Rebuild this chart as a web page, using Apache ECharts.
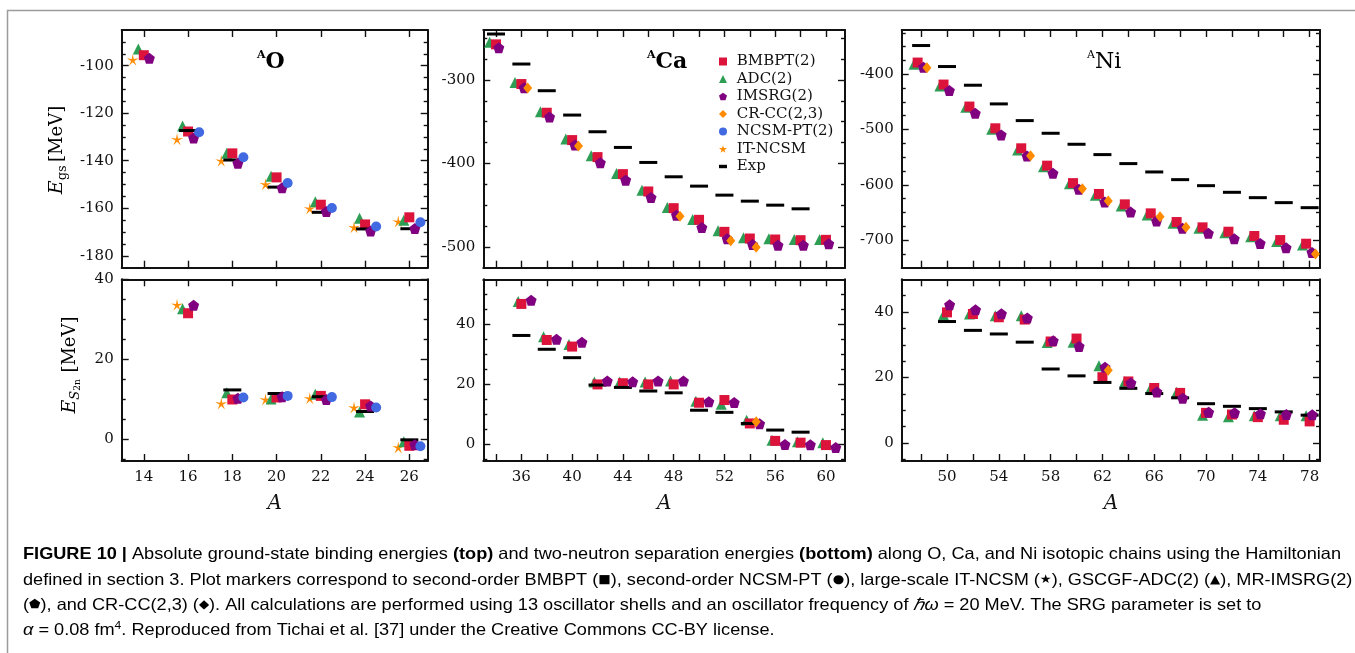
<!DOCTYPE html>
<html><head><meta charset="utf-8">
<script src="https://cdn.jsdelivr.net/npm/echarts@6/dist/echarts.min.js"></script>
<style>html,body{margin:0;padding:0;background:#fff}#c{width:1355px;height:653px}</style>
</head><body><div id="c"></div>
<script>
// ================= DATA =================
// Oxygen
const O_A = [14, 16, 18, 20, 22, 24, 26];
const O_TOP_BMBPT  = [-95.6, -127.7, -136.9, -147.0, -158.5, -166.8, -163.8];
const O_TOP_ADC    = [-93.0, -125.4, -136.9, -146.5, -157.3, -164.2, -165.0];
const O_TOP_IMSRG  = [-96.9, -130.4, -141.1, -151.4, -161.4, -169.6, -168.5];
const O_TOP_NCSMPT = [null, -128.0, -138.5, -149.4, -159.9, -167.7, -165.9];
const O_TOP_ITNCSM = [-97.5, -131.0, -140.0, -149.9, -160.1, -168.0, -165.6];
const O_TOP_EXP    = [null, -127.3, -139.7, -151.1, -161.7, -168.7, -168.6];

const O_A_S2N = [16, 18, 20, 22, 24, 26];
const O_S2N_BMBPT  = [31.5, 9.9, 10.4, 10.8, 8.7, -1.7];
const O_S2N_ADC    = [32.6, 11.6, 10.0, 11.2, 6.8, -0.7];
const O_S2N_IMSRG  = [33.5, 10.2, 10.6, 9.9, 8.3, -1.4];
const O_S2N_NCSMPT = [null, 10.4, 10.8, 10.5, 7.9, -1.8];
const O_S2N_ITNCSM = [33.6, 8.9, 9.9, 10.2, 7.9, -2.1];
const O_S2N_EXP    = [null, 12.3, 11.4, 10.6, 6.9, -0.2];

// Calcium
const CA_A = [34, 36, 38, 40, 42, 44, 46, 48, 50, 52, 54, 56, 58, 60];
const CA_TOP_BMBPT = [-257.2, -304.8, -339.2, -372.0, -392.4, -412.8, -433.6, -453.6, -467.6, -482.0, -490.0, -491.2, -492.0, -491.6];
const CA_TOP_ADC   = [-254.8, -302.8, -338.0, -370.8, -390.8, -412.0, -432.0, -452.8, -467.2, -480.8, -489.2, -490.4, -491.2, -491.2];
const CA_TOP_IMSRG = [-261.2, -309.2, -344.4, -378.0, -399.2, -420.0, -440.8, -462.0, -476.8, -490.4, -497.2, -498.0, -498.0, -496.4];
const CA_TOP_CRCC  = [null, -309.6, null, -379.2, null, null, null, -463.2, null, -492.8, -500.4, null, null, null];
const CA_TOP_EXP   = [-244.8, -280.8, -312.8, -342.0, -362.0, -380.8, -398.8, -416.0, -427.2, -438.0, -445.2, -450.0, -454.4, null];

const CA_A_S2N = [36, 38, 40, 42, 44, 46, 48, 50, 52, 54, 56, 58, 60];
const CA_S2N_BMBPT = [46.8, 34.8, 32.6, 20.0, 20.4, 20.0, 20.0, 13.9, 14.8, 7.0, 1.2, 0.6, -0.2];
const CA_S2N_ADC   = [47.6, 35.9, 33.3, 20.8, 20.8, 20.8, 21.1, 14.4, 13.4, 8.1, 1.4, 0.9, 0.6];
const CA_S2N_IMSRG = [48.0, 35.0, 34.0, 21.1, 20.9, 21.1, 21.1, 14.2, 14.0, 6.9, 0.0, -0.1, -1.0];
const CA_S2N_CRCC  = [null, null, null, null, null, null, null, null, null, 7.6, null, null, null];
const CA_S2N_EXP   = [36.3, 31.7, 28.9, 19.8, 19.0, 17.8, 17.2, 11.4, 10.7, 7.0, 4.8, 4.1, null];

// Nickel
const NI_A = [48, 50, 52, 54, 56, 58, 60, 62, 64, 66, 68, 70, 72, 74, 76, 78];
const NI_TOP_BMBPT = [-378.9, -418.7, -458.5, -497.8, -534.0, -565.4, -597.0, -616.6, -635.4, -651.7, -667.4, -677.0, -684.9, -692.7, -700.0, -706.6];
const NI_TOP_ADC   = [-381.9, -421.1, -459.7, -499.6, -537.0, -567.2, -598.2, -619.0, -638.4, -654.8, -669.8, -678.8, -686.7, -693.9, -702.4, -709.0];
const NI_TOP_IMSRG = [-387.3, -429.6, -470.6, -509.8, -547.9, -579.3, -608.2, -631.1, -649.2, -665.6, -678.8, -687.9, -697.5, -706.0, -713.8, -722.3];
const NI_TOP_CRCC  = [-388.5, null, null, null, -547.3, null, -607.0, -629.3, null, -657.7, -677.0, null, null, null, null, -725.3];
const NI_TOP_EXP   = [-348.1, -386.1, -419.9, -453.7, -483.9, -506.8, -526.7, -545.4, -561.7, -576.8, -590.7, -601.6, -613.6, -623.3, -632.3, -641.4];

const NI_A_S2N = [50, 52, 54, 56, 58, 60, 62, 64, 66, 68, 70, 72, 74, 76, 78];
const NI_S2N_BMBPT = [39.9, 39.4, 38.4, 37.7, 31.0, 31.9, 20.1, 18.8, 16.8, 15.3, 9.2, 8.7, 7.9, 7.1, 6.6];
const NI_S2N_ADC   = [39.2, 39.4, 38.9, 38.9, 30.7, 30.8, 23.6, 18.8, 16.8, 15.5, 8.5, 8.0, 8.3, 8.3, 8.3];
const NI_S2N_IMSRG = [42.2, 40.7, 39.5, 38.2, 31.2, 29.5, 23.1, 18.3, 15.6, 13.7, 9.4, 9.2, 8.9, 8.7, 8.6];
const NI_S2N_CRCC  = [null, null, null, null, null, null, 22.2, null, null, null, null, null, null, null, null];
const NI_S2N_EXP   = [37.1, 34.4, 33.3, 30.8, 22.6, 20.5, 18.5, 16.7, 15.1, 13.8, 12.0, 11.2, 10.5, 9.5, 8.5];

// Tick values / labels
const O_X_TICKS  = [14, 16, 18, 20, 22, 24, 26];
const O_X_LABELS = [14, 16, 18, 20, 22, 24, 26];
const CA_X_TICKS  = [34, 36, 38, 40, 42, 44, 46, 48, 50, 52, 54, 56, 58, 60];
const CA_X_LABELS = [36, 40, 44, 48, 52, 56, 60];
const NI_X_TICKS  = [48, 50, 52, 54, 56, 58, 60, 62, 64, 66, 68, 70, 72, 74, 76, 78];
const NI_X_LABELS = [50, 54, 58, 62, 66, 70, 74, 78];
const O_TOP_Y_LABELS  = [-180, -160, -140, -120, -100];
const CA_TOP_Y_LABELS = [-500, -400, -300];
const NI_TOP_Y_LABELS = [-700, -600, -500, -400];
const S2N_Y_LABELS    = [0, 20, 40];

// ================= STYLE / LAYOUT =================
const PENT = 'path://M0,-10L9.511,-3.09L5.878,8.09L-5.878,8.09L-9.511,-3.09Z';
const THIN_STAR = 'path://M0,-10L1.6,-2.2L9.511,-3.09L2.6,0.85L5.878,8.09L0,2.75L-5.878,8.09L-2.6,0.85L-9.511,-3.09L-1.6,-2.2Z';
const FAT_STAR = 'path://M0,-10L2.245,-3.09L9.511,-3.09L3.633,1.18L5.878,8.09L0,3.82L-5.878,8.09L-3.633,1.18L-9.511,-3.09L-2.245,-3.09Z';

const METHODS = {
  ITNCSM: {name: 'IT-NCSM',    symbol: THIN_STAR, size: 12,      color: '#ff8c00'},
  ADC:    {name: 'ADC(2)',     symbol: 'triangle', size: 11,     color: '#2f9e55'},
  BMBPT:  {name: 'BMBPT(2)',   symbol: 'rect',     size: 10,     color: '#dc143c'},
  EXP:    {name: 'Exp',        symbol: 'rect',     size: [18, 3], color: '#000000'},
  IMSRG:  {name: 'IMSRG(2)',   symbol: PENT,       size: 11,     color: '#800080'},
  CRCC:   {name: 'CR-CC(2,3)', symbol: 'diamond',  size: [9, 11], color: '#ff8c00'},
  NCSMPT: {name: 'NCSM-PT(2)', symbol: 'circle',   size: 10,     color: '#4169e1'}
};
const ORDER = ['ITNCSM', 'ADC', 'BMBPT', 'EXP', 'IMSRG', 'CRCC', 'NCSMPT'];

const COLS = [{left: 121.7, width: 306}, {left: 483.3, width: 361.7}, {left: 901.7, width: 418.3}];
const ROWS = [{top: 30, height: 237.7}, {top: 279.3, height: 181.7}];

const PANELS = [
  {col: 0, row: 0, x: [13, 26.83], y: [-185, -85], xt: O_X_TICKS, xl: null, yl: O_TOP_Y_LABELS, ym: 5, A: O_A,
   off: {ITNCSM: -0.5, ADC: -0.25, BMBPT: 0, EXP: 0, IMSRG: 0.25, NCSMPT: 0.5},
   d: {ITNCSM: O_TOP_ITNCSM, ADC: O_TOP_ADC, BMBPT: O_TOP_BMBPT, EXP: O_TOP_EXP, IMSRG: O_TOP_IMSRG, NCSMPT: O_TOP_NCSMPT}},
  {col: 1, row: 0, x: [33, 61.5], y: [-525, -240], xt: CA_X_TICKS, xl: null, yl: CA_TOP_Y_LABELS, ym: 25, A: CA_A,
   off: {ADC: -0.5, BMBPT: 0, EXP: 0, IMSRG: 0.22, CRCC: 0.5},
   d: {ADC: CA_TOP_ADC, BMBPT: CA_TOP_BMBPT, EXP: CA_TOP_EXP, IMSRG: CA_TOP_IMSRG, CRCC: CA_TOP_CRCC}},
  {col: 2, row: 0, x: [46.5, 78.8], y: [-750, -320], xt: NI_X_TICKS, xl: null, yl: NI_TOP_Y_LABELS, ym: 25, A: NI_A,
   off: {ADC: -0.55, BMBPT: -0.27, EXP: 0, IMSRG: 0.18, CRCC: 0.45},
   d: {ADC: NI_TOP_ADC, BMBPT: NI_TOP_BMBPT, EXP: NI_TOP_EXP, IMSRG: NI_TOP_IMSRG, CRCC: NI_TOP_CRCC}},
  {col: 0, row: 1, x: [13, 26.83], y: [-5.5, 40], xt: O_X_TICKS, xl: O_X_LABELS, yl: S2N_Y_LABELS, ym: 5, A: O_A_S2N,
   off: {ITNCSM: -0.5, ADC: -0.25, BMBPT: 0, EXP: 0, IMSRG: 0.25, NCSMPT: 0.5},
   d: {ITNCSM: O_S2N_ITNCSM, ADC: O_S2N_ADC, BMBPT: O_S2N_BMBPT, EXP: O_S2N_EXP, IMSRG: O_S2N_IMSRG, NCSMPT: O_S2N_NCSMPT}},
  {col: 1, row: 1, x: [33, 61.5], y: [-5.5, 55], xt: CA_X_TICKS, xl: CA_X_LABELS, yl: S2N_Y_LABELS, ym: 5, A: CA_A_S2N,
   off: {ADC: -0.25, BMBPT: 0, EXP: 0, IMSRG: 0.77, CRCC: 0.5},
   d: {ADC: CA_S2N_ADC, BMBPT: CA_S2N_BMBPT, EXP: CA_S2N_EXP, IMSRG: CA_S2N_IMSRG, CRCC: CA_S2N_CRCC}},
  {col: 2, row: 1, x: [46.5, 78.8], y: [-5.5, 50], xt: NI_X_TICKS, xl: NI_X_LABELS, yl: S2N_Y_LABELS, ym: 5, A: NI_A_S2N,
   off: {ADC: -0.27, BMBPT: 0, EXP: 0, IMSRG: 0.2, CRCC: 0.45},
   d: {ADC: NI_S2N_ADC, BMBPT: NI_S2N_BMBPT, EXP: NI_S2N_EXP, IMSRG: NI_S2N_IMSRG, CRCC: NI_S2N_CRCC}}
];

function minorTicks(min, max, step, majors) {
  const r = [];
  for (let k = Math.ceil(min / step); k * step <= max + 1e-9; k++) {
    const v = +(k * step).toFixed(6);
    if (Math.abs(v - min) < 1e-6 || Math.abs(v - max) < 1e-6) continue;
    if (majors.some(m => Math.abs(m - v) < 1e-6)) continue;
    r.push(v);
  }
  return r;
}

const SERIF = '"DejaVu Serif", serif';
const INK = '#111';
const grids = [], xAxes = [], yAxes = [], series = [];

function baseAxis(gi, rng, pos, showLine) {
  return {
    type: 'value', gridIndex: gi, min: rng[0], max: rng[1], position: pos,
    splitLine: {show: false},
    axisLine: {show: showLine, onZero: false, lineStyle: {color: INK, width: 2}},
    axisTick: {show: true, inside: true, length: 7, lineStyle: {color: INK, width: 1.4}},
    axisLabel: {show: false}
  };
}

PANELS.forEach((p, gi) => {
  grids.push({left: COLS[p.col].left, width: COLS[p.col].width, top: ROWS[p.row].top, height: ROWS[p.row].height, containLabel: false});
  const xb = baseAxis(gi, p.x, 'bottom', true);
  xb.axisTick.customValues = p.xt;
  if (p.xl) {
    xb.axisLabel = {show: true, customValues: p.xl, margin: 9, fontFamily: SERIF, fontSize: 15, color: INK};
  }
  const xIdx = xAxes.length;
  xAxes.push(xb);
  const xt = baseAxis(gi, p.x, 'top', true);
  xt.axisTick.customValues = p.xt;
  xAxes.push(xt);
  const yMin = minorTicks(p.y[0], p.y[1], p.ym, p.yl);
  const yl = baseAxis(gi, p.y, 'left', true);
  yl.axisTick.customValues = p.yl;
  yl.axisLabel = {show: true, customValues: p.yl, margin: 8, fontFamily: SERIF, fontSize: 15, color: INK};
  const yIdx = yAxes.length;
  yAxes.push(yl);
  const ylm = baseAxis(gi, p.y, 'left', false);
  ylm.axisTick.customValues = yMin; ylm.axisTick.length = 4;
  yAxes.push(ylm);
  const yr = baseAxis(gi, p.y, 'right', true);
  yr.axisTick.customValues = p.yl;
  yAxes.push(yr);
  const yrm = baseAxis(gi, p.y, 'right', false);
  yrm.axisTick.customValues = yMin; yrm.axisTick.length = 4;
  yAxes.push(yrm);

  ORDER.forEach(k => {
    if (!p.d[k]) return;
    const m = METHODS[k];
    const vals = p.d[k];
    const data = [];
    p.A.forEach((a, i) => { if (vals[i] !== null && vals[i] !== undefined) data.push([a + p.off[k], vals[i]]); });
    series.push({
      type: 'scatter', name: m.name, xAxisIndex: xIdx, yAxisIndex: yIdx,
      symbol: m.symbol, symbolSize: m.size, data: data,
      itemStyle: {color: m.color, opacity: 1},
      emphasis: {disabled: true}, silent: true
    });
  });
});

// ---------- caption ----------
const CF = '"Liberation Sans", Arial, sans-serif';
const CAP_STYLES = {
  n:  {font: '16.5px ' + CF, color: '#3a3a3a', lineHeight: 19},
  b:  {font: 'bold 16.5px ' + CF, color: '#222', lineHeight: 19},
  i:  {font: 'italic 16.5px ' + CF, color: '#3a3a3a', lineHeight: 19},
  sup:{font: '11px ' + CF, color: '#3a3a3a', lineHeight: 11, verticalAlign: 'top'},
  lk: {font: '16.5px ' + CF, color: '#3f74b5', lineHeight: 19},
  sr: {font: '12px "DejaVu Sans"', color: '#d9534f', lineHeight: 19},
  sb: {font: '12px "DejaVu Sans"', color: '#4a6fb5', lineHeight: 19},
  so: {font: '12px "DejaVu Sans"', color: '#f5a623', lineHeight: 19},
  sg: {font: '12px "DejaVu Sans"', color: '#3aa597', lineHeight: 19},
  sp: {font: '12px "DejaVu Sans"', color: '#8b1a7f', lineHeight: 19}
};
const CAPTION = [
  [['b', 'FIGURE 10 | '], ['n', 'Absolute ground-state binding energies '], ['b', '(top)'], ['n', ' and two-neutron separation energies '], ['b', '(bottom)'], ['n', ' along O, Ca, and Ni isotopic chains using the Hamiltonian']],
  [['n', 'defined in section 3. Plot markers correspond to second-order BMBPT ('], ['sr', '■'], ['n', '), second-order NCSM-PT ('], ['sb', '●'], ['n', '), large-scale IT-NCSM ('], ['so', '★'], ['n', '), GSCGF-ADC(2) ('], ['sg', '▲'], ['n', '), MR-IMSRG(2)']],
  [['n', '('], ['sp', '⬟'], ['n', '), and CR-CC(2,3) ('], ['so', '◆'], ['n', '). All calculations are performed using 13 oscillator shells and an oscillator frequency of '], ['i', 'ℏω'], ['n', ' = 20 MeV. The SRG parameter is set to']],
  [['i', 'α'], ['n', ' = 0.08 fm'], ['sup', '4'], ['n', '. Reproduced from Tichai et al. ['], ['lk', '37'], ['n', '] under the Creative Commons CC-BY license.']]
];
const mctx = document.createElement('canvas').getContext('2d');
function lineWidth(segs) {
  let w = 0;
  segs.forEach(([s, t]) => { mctx.font = CAP_STYLES[s].font; w += mctx.measureText(t).width; });
  return w;
}
const capScale = 1318 / lineWidth(CAPTION[0]);
const capY = [554, 580, 605, 630];
const capGraphics = CAPTION.map((segs, li) => ({
  type: 'text', x: 23, y: capY[li], scaleX: capScale, silent: true,
  style: {
    text: segs.map(([s, t]) => '{' + s + '|' + t + '}').join(''),
    rich: CAP_STYLES, align: 'left', verticalAlign: 'middle'
  }
}));

// ---------- titles & axis names ----------
function title(x, main, weight) {
  return {
    type: 'text', x: x, y: 62, silent: true,
    style: {
      text: '{s|A}{m|' + main + '}', align: 'left', verticalAlign: 'middle',
      rich: {
        s: {fontFamily: SERIF, fontSize: 11, fontWeight: weight, color: INK, lineHeight: 12, verticalAlign: 'top'},
        m: {fontFamily: SERIF, fontSize: 22, fontWeight: weight, color: INK, lineHeight: 24}
      }
    }
  };
}
const yNameRich = {
  e:  {fontFamily: SERIF, fontStyle: 'italic', fontSize: 19, color: INK, lineHeight: 24},
  s:  {fontFamily: SERIF, fontSize: 13, color: INK, lineHeight: 14, verticalAlign: 'bottom'},
  si: {fontFamily: SERIF, fontStyle: 'italic', fontSize: 13, color: INK, lineHeight: 14, verticalAlign: 'bottom'},
  ss: {fontFamily: SERIF, fontSize: 9, color: INK, lineHeight: 8, verticalAlign: 'bottom'},
  u:  {fontFamily: SERIF, fontSize: 18, color: INK, lineHeight: 24}
};
const graphics = [
  {type: 'rect', silent: true, z: -10, shape: {x: 7.5, y: 10.5, width: 1400, height: 700}, style: {fill: 'none', stroke: '#9c9c9c', lineWidth: 1.5}},
  title(257, 'O', 'bold'),
  title(647, 'Ca', 'bold'),
  title(1087, 'Ni', 'normal'),
  {type: 'text', x: 57, y: 150, rotation: Math.PI / 2, silent: true,
   style: {text: '{e|E}{s|gs} {u|[MeV]}', rich: yNameRich, align: 'center', verticalAlign: 'middle'}},
  {type: 'text', x: 70, y: 365, rotation: Math.PI / 2, silent: true,
   style: {text: '{e|E}{si|S}{ss|2n}  {u|[MeV]}', rich: yNameRich, align: 'center', verticalAlign: 'middle'}},
  ...[274.7, 664.2, 1110.9].map(x => ({type: 'text', x: x, y: 504, silent: true,
   style: {text: 'A', font: 'italic 20px ' + SERIF, fill: INK, align: 'center', verticalAlign: 'middle'}})),
  ...capGraphics
];

const legendData = [
  {name: 'BMBPT(2)', icon: 'rect'},
  {name: 'ADC(2)', icon: 'triangle'},
  {name: 'IMSRG(2)', icon: PENT},
  {name: 'CR-CC(2,3)', icon: 'diamond'},
  {name: 'NCSM-PT(2)', icon: 'circle'},
  {name: 'IT-NCSM', icon: FAT_STAR},
  {name: 'Exp', icon: 'path://M0,0H7V3H0Z'}
];

const chart = echarts.init(document.getElementById('c'), null, {renderer: 'canvas'});
chart.setOption({
  animation: false,
  backgroundColor: '#fff',
  grid: grids, xAxis: xAxes, yAxis: yAxes, series: series,
  legend: {
    orient: 'vertical', left: 719, top: 53.5, padding: 0,
    itemWidth: 8, itemHeight: 8, itemGap: 1.5, selectedMode: false,
    formatter: n => ' ' + n,
    textStyle: {fontFamily: SERIF, fontSize: 15, color: INK, lineHeight: 16},
    data: legendData
  },
  graphic: graphics
});
</script>
</body></html>
